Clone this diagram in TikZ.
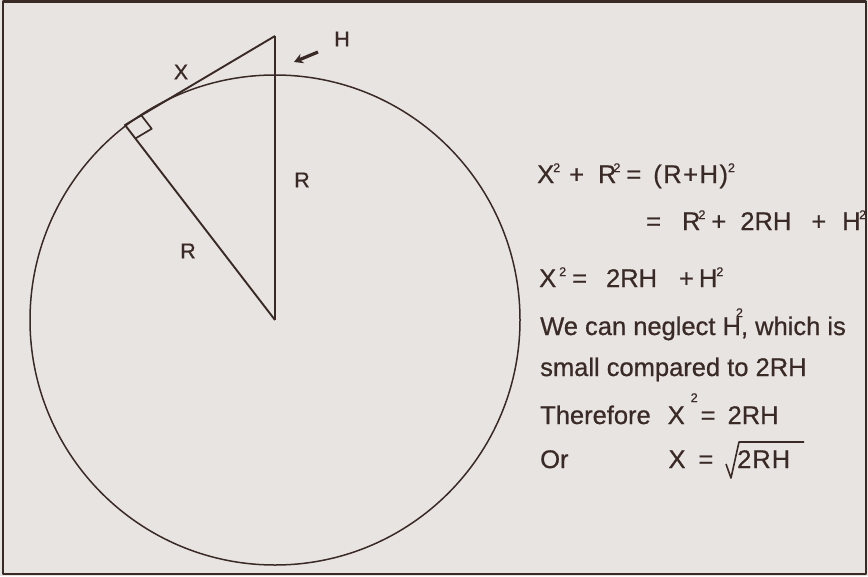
\documentclass[tikz,border=0pt]{standalone}
\usepackage{fontspec}
\setmainfont{Liberation Sans}[FakeBold=0.7]
\usetikzlibrary{arrows.meta,calc}
\definecolor{paper}{RGB}{232,228,226}
\definecolor{ink}{RGB}{58,42,38}
\newcommand{\sqx}[1]{\raisebox{#1}{\fontsize{12.5}{12.5}\selectfont 2}}
\newcommand{\eqf}{\fontsize{25.5}{30}\selectfont}
\begin{document}
\begin{tikzpicture}[x=1pt,y=-1pt, line join=round,
  txt/.style={anchor=base west, inner sep=0pt, text=ink, font=\eqf},
  lbl/.style={inner sep=0pt, text=ink, font=\fontsize{21.5}{25}\selectfont},
  geo/.style={draw=ink, line width=1.9pt}]
\fill[paper] (0,0) rectangle (868,576);
\useasboundingbox (0,0) rectangle (868,576);
\draw[ink, line width=2.4pt] (3,1.5) rectangle (866,574);
% geometry
\coordinate (C) at (275,320);
\coordinate (A) at (275,36);
\coordinate (T) at (125,125);
\draw[ink, line width=1.5pt] (C) circle[radius=245pt];
\draw[geo] (A) -- (C);
\draw[geo] (A) -- (T) -- (C);
\coordinate (P1) at ($(T)!19pt!(A)$);
\coordinate (P2) at ($(T)!17pt!(C)$);
\draw[ink, line width=1.7pt] (P1) -- ($(P1)+(P2)-(T)$) -- (P2);
% labels
\node[lbl] (lx) at (181,72) {X};
\node[lbl] (lh) at (342,39) {H};
\node[lbl] (lr1) at (302,180) {R};
\node[lbl] (lr2) at (188,251) {R};
\coordinate (ha) at (318,52);
\coordinate (hb) at (294,62);
\draw[ink, line width=3.2pt, -{Stealth[length=9pt,width=10pt]}] (ha) -- (hb);
% equations
\node[txt] (e1) at (537,183) {X\hspace{-1pt}\sqx{11pt}\hspace{9pt}+\hspace{14pt}R\hspace{-3pt}\sqx{11pt}\hspace{6pt}=\hspace{12pt}(\hspace{1.5pt}R\hspace{1.5pt}+\hspace{1.5pt}H\hspace{1.5pt})\sqx{11pt}};
\node[txt] (e2) at (646,230) {=\hspace{21pt}R\hspace{-2pt}\sqx{11pt}\hspace{6pt}+\hspace{14pt}2RH\hspace{20pt}+\hspace{16pt}H\hspace{-1.5pt}\sqx{11pt}};
\node[txt] (e3) at (539,287) {X\hspace{3pt}\sqx{11pt}\hspace{6pt}=\hspace{19pt}2RH\hspace{22pt}+\hspace{5pt}H\hspace{-1pt}\sqx{11pt}};
\node[txt] (e4) at (540,335) {We can neglect H\rlap{\hspace{-5pt}\sqx{18pt}}, which is};
\node[txt] (e5) at (540,376) {small compared to 2RH};
\node[txt] (e6) at (540,424) {Therefore\hspace{17pt}X\hspace{6pt}\sqx{22pt}\hspace{3pt}=\hspace{12pt}2RH};
\node[txt] (e7) at (540,468) {Or\hspace{100pt}X\hspace{13pt}=};
\node[txt] (e8) at (737,468) {2\hspace{1pt}R\hspace{1pt}H};
\coordinate (s1) at (726,464);
\coordinate (s2) at (731,478);
\coordinate (s3) at (739,442);
\coordinate (s4) at (804,442);
\draw[ink, line width=1.6pt] (s1) -- (s2) -- (s3) -- (s4);
\end{tikzpicture}
\end{document}
